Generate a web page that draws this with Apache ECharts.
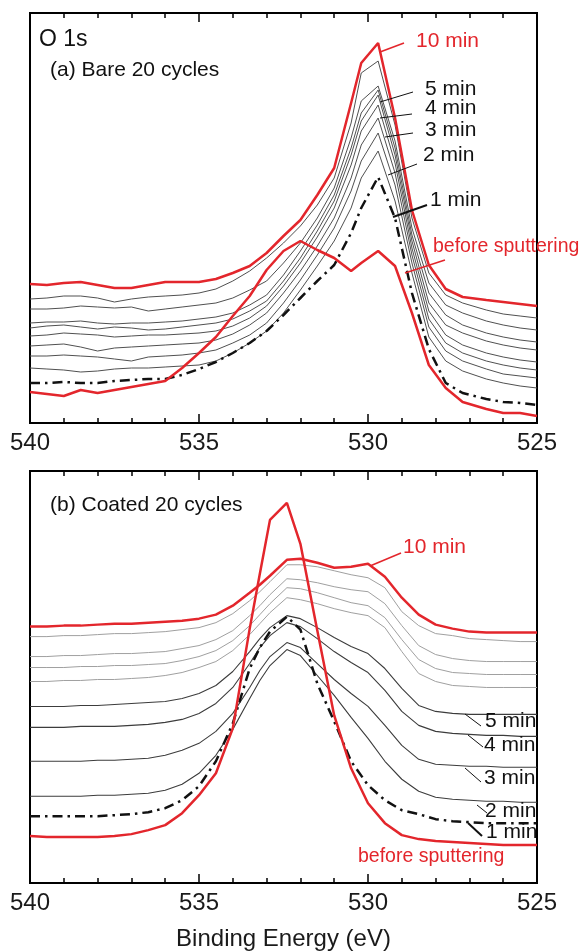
<!DOCTYPE html>
<html><head><meta charset="utf-8">
<script src="https://cdn.jsdelivr.net/npm/echarts@6/dist/echarts.min.js"></script>
<style>html,body{margin:0;padding:0;background:#fff}#c{width:582px;height:952px}</style>
</head><body><div id="c"></div>
<script>
// ---------- Panel (a): Bare 20 cycles ----------
const energyTop = [540,539.5,539,538.5,538,537.5,537,536.5,536,535.5,535,534.5,534,533.5,533,532.5,532,531.5,531,530.5,530.2,529.7,529.2,528.7,528.2,527.7,527.2,526.5,526,525.5,525];
const topBefore = [31,29,27,33,30,33,36,39,42,55,70,86,107,127,153,172,182,173,165,152,160,172,157,110,58,35,21,14,10,10,7];
const top1min  = [40,40,41,40,40,42,43,44,44,48,54,61,70,80,92,108,125,142,158,190,215,246,205,130,74,40,30,24,21,20,18];
const top2min  = [55,54,53,51,52,54,55,55,56,57,58,62,70,80,92,110,133,157,182,215,245,272,222,150,86,62,52,44,40,37,35];
const top3min  = [67,67,68,67,66,64,62,66,67,68,70,73,80,88,100,120,143,168,195,232,262,290,238,160,96,72,62,54,49,47,45];
const top4min  = [77,78,79,76,72,75,76,77,78,79,80,83,89,98,110,130,152,177,205,245,278,305,250,168,104,80,70,62,58,55,53];
const top5min  = [87,88,90,89,88,86,87,88,88,89,90,92,97,105,117,137,160,186,215,258,292,318,260,175,112,88,78,70,66,63,61];
const top6min  = [95,97,98,96,94,96,95,93,94,96,98,100,104,112,122,142,165,192,222,268,302,328,268,182,120,98,90,82,78,75,73];
const top7min  = [100,101,101,102,100,99,100,100,101,102,104,106,110,118,128,148,172,198,228,275,310,333,275,188,130,108,98,90,86,83,81];
const top8min  = [114,114,115,117,116,115,116,112,114,116,118,120,125,133,142,160,180,205,235,285,322,337,282,195,140,118,110,102,98,95,93];
const top9min  = [124,125,127,127,125,121,124,126,127,128,130,134,142,152,165,180,197,218,245,300,350,362,298,205,150,128,120,113,109,107,105];
const top10min = [139,138,140,141,138,135,135,138,141,141,141,144,150,157,170,187,203,228,255,320,360,380,305,213,158,134,126,123,121,119,117];

// ---------- Panel (b): Coated 20 cycles ----------
const energyBot = [540,539.5,539,538.5,538,537.5,537,536.5,536,535.5,535,534.5,534,533.5,533.2,532.9,532.4,532,531.5,531,530.5,530,529.5,529,528.5,528,527.5,527,526.5,526,525.5,525];
const botBefore = [47,46,46,46,46,47,49,53,58,70,88,110,155,255,310,364,381,340,253,168,115,80,60,48,44,42,41,40,39,38,38,38];
const bot1min  = [67,67,67,67,67,68,69,71,75,83,97,122,160,215,236,252,267,254,200,162,122,98,83,73,69,64,62,61,60,60,60,60];
const bot2min  = [87,87,87,87,88,88,89,90,93,99,110,128,154,185,203,218,234,228,208,188,166,145,122,104,92,86,84,83,82,82,81,81];
const bot3min  = [122,122,122,122,123,123,124,125,128,133,140,152,170,196,213,227,241,236,220,204,190,177,158,138,124,119,118,117,117,116,116,116];
const bot4min  = [156,156,156,157,157,157,158,159,161,164,170,180,196,220,236,248,261,257,245,232,221,211,193,172,158,152,150,149,148,148,147,147];
const bot5min  = [177,177,177,178,178,179,180,181,182,185,190,198,212,232,245,256,268,265,256,246,237,230,215,195,178,172,170,169,169,169,169,169];
const bot6min  = [202,202,203,203,204,204,205,206,208,211,216,222,233,249,260,271,286,284,280,275,271,268,256,232,210,202,198,197,196,196,196,196];
const bot7min  = [216,216,216,217,217,218,218,219,220,223,227,233,243,258,269,280,296,295,291,286,281,278,266,244,224,215,211,210,209,209,209,209];
const bot8min  = [227,227,228,228,229,230,230,231,232,235,238,244,253,268,278,289,305,304,301,297,294,292,280,258,238,229,225,223,222,222,222,222];
const bot9min  = [247,247,248,248,249,250,250,251,252,254,256,261,270,283,292,302,319,319,317,313,309,306,296,272,258,250,248,245,244,243,242,242];
const bot10min = [257,257,258,258,259,260,260,261,262,263,265,269,278,291,299,308,324,325,321,316,317,320,307,286,269,259,255,252,251,251,251,251];

const xTicks = [540,535,530,525];

const RED = '#e3262c';
const FONT = 'Liberation Sans, Arial, Helvetica, sans-serif';

function pairs(E, v){ return E.map((e,i)=>[e, v[i]]); }
function line(gi, E, v, color, width, type, z){
  return {type:'line', xAxisIndex:gi*2, yAxisIndex:gi, data:pairs(E,v), showSymbol:false, symbol:'none',
    silent:true, z:z, lineStyle:{color:color, width:width, type:type||'solid'}};
}
const dashDot = [10,5,2.5,5];

const series = [];
const topGrays = [top9min, top8min, top7min, top6min, top5min, top4min, top3min, top2min];
topGrays.forEach(s=>series.push(line(0, energyTop, s, '#505050', 1, 'solid', 2)));
series.push(line(0, energyTop, top1min, '#111', 2.5, dashDot, 3));
series.push(line(0, energyTop, topBefore, RED, 2.5, 'solid', 4));
series.push(line(0, energyTop, top10min, RED, 2.5, 'solid', 4));

const botLight = [bot9min, bot8min, bot7min, bot6min];
const botDark = [bot5min, bot4min, bot3min, bot2min];
botLight.forEach(s=>series.push(line(1, energyBot, s, '#a0a0a0', 1, 'solid', 2)));
botDark.forEach(s=>series.push(line(1, energyBot, s, '#3c3c3c', 1.1, 'solid', 2)));
series.push(line(1, energyBot, bot1min, '#111', 2.5, dashDot, 3));
series.push(line(1, energyBot, botBefore, RED, 2.5, 'solid', 4));
series.push(line(1, energyBot, bot10min, RED, 2.5, 'solid', 4));

function xAx(gi, pos, labels, name){
  return {type:'value', gridIndex:gi, position:pos, min:525, max:540, interval:5, inverse:true,
    axisLine:{show:false},
    axisTick:{show:true, inside:true, length:9, lineStyle:{color:'#000', width:1.5}},
    minorTick:{show:true, splitNumber:5, length:5, lineStyle:{color:'#000', width:1.5}},
    splitLine:{show:false}, minorSplitLine:{show:false},
    axisLabel:{show:labels, fontSize:24, color:'#1a1a1a', fontFamily:FONT, margin:8,
      formatter:(v)=> xTicks.includes(v) ? String(v) : ''},
    name:name||'', nameLocation:'middle', nameGap:44,
    nameTextStyle:{fontSize:24, color:'#1a1a1a', fontFamily:FONT}};
}

const texts = [
  ['O 1s', 39, 40, 23, '#111'],
  ['(a) Bare 20 cycles', 50, 70, 21, '#111'],
  ['10 min', 416, 41, 21, RED],
  ['5 min', 425, 89, 21, '#111'],
  ['4 min', 425, 108, 21, '#111'],
  ['3 min', 425, 130, 21, '#111'],
  ['2 min', 423, 155, 21, '#111'],
  ['1 min', 430, 200, 21, '#111'],
  ['before sputtering', 433, 247, 19.5, RED],
  ['(b) Coated 20 cycles', 50, 505, 21, '#111'],
  ['10 min', 403, 547, 21, RED],
  ['5 min', 485, 721, 21, '#111'],
  ['4 min', 484, 745, 21, '#111'],
  ['3 min', 484, 778, 21, '#111'],
  ['2 min', 485, 811, 21, '#111'],
  ['1 min', 486, 832, 21, '#111'],
  ['before sputtering', 358, 857, 19.5, RED]
];
const leaders = [
  [380,52,404,43,RED,1.5],
  [380,102,413,92,'#111',1],
  [380,118,412,114,'#111',1],
  [385,137,413,133,'#111',1],
  [388,175,417,164,'#111',1],
  [393,217,427,205,'#111',2],
  [405,273,445,260,RED,1.5],
  [370,566,401,553,RED,1.5],
  [465,714,481,726,'#111',1],
  [468,735,483,747,'#111',1],
  [465,768,481,782,'#111',1],
  [477,805,487,813,'#111',1],
  [468,823,482,836,'#111',2]
];
const graphic = [];
texts.forEach(t=>graphic.push({type:'text', x:t[1], y:t[2], z:10, silent:true,
  style:{text:t[0], fill:t[4], font:t[3]+'px '+FONT, align:'left', verticalAlign:'middle'}}));
leaders.forEach(l=>graphic.push({type:'line', z:10, silent:true,
  shape:{x1:l[0],y1:l[1],x2:l[2],y2:l[3]}, style:{stroke:l[4], lineWidth:l[5]}}));

const chart = echarts.init(document.getElementById('c'), null, {renderer:'canvas'});
chart.setOption({
  animation:false,
  backgroundColor:'#fff',
  grid:[
    {left:30, right:45, top:13, height:410, show:true, borderColor:'#000', borderWidth:2, backgroundColor:'transparent'},
    {left:30, right:45, top:471, height:413, show:true, borderColor:'#000', borderWidth:2, backgroundColor:'transparent'}
  ],
  xAxis:[
    xAx(0,'bottom',true), xAx(0,'top',false),
    xAx(1,'bottom',true,'Binding Energy (eV)'), xAx(1,'top',false)
  ],
  yAxis:[
    {type:'value', gridIndex:0, min:0, max:410, show:false},
    {type:'value', gridIndex:1, min:0, max:413, show:false}
  ],
  series:series,
  graphic:graphic
});
</script></body></html>
